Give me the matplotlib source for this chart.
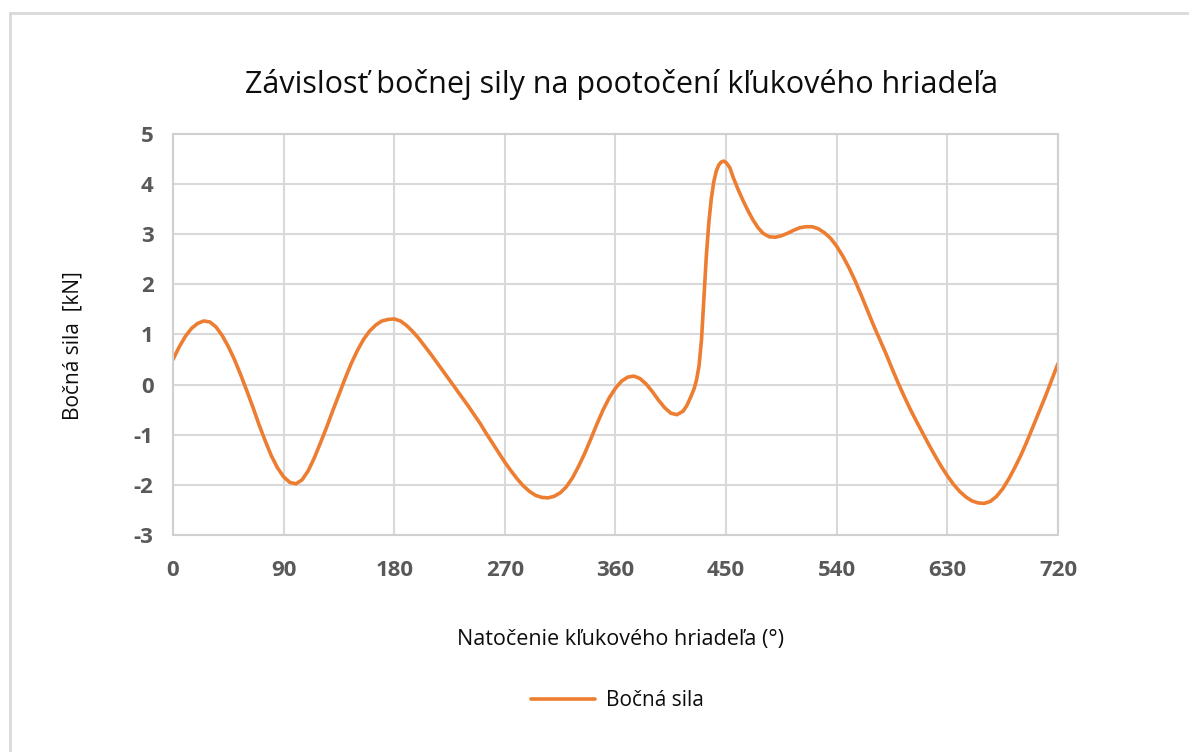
import matplotlib.pyplot as plt
from matplotlib.lines import Line2D


# -----------------------------
# Data
# -----------------------------

angles = (
    list(range(0, 420, 5))
    + [418, 421, 424, 426, 428, 430, 432, 434, 436, 438, 440, 442, 444,
       446, 448, 450, 453, 456, 460, 464, 468, 472, 476, 480]
    + list(range(485, 725, 5))
)

side_force = [
    # 0 - 95
    0.50, 0.75, 0.96, 1.12, 1.22, 1.27, 1.25, 1.15, 0.98, 0.76,
    0.50, 0.20, -0.12, -0.45, -0.80, -1.12, -1.42, -1.66, -1.84, -1.95,
    # 100 - 195
    -1.98, -1.90, -1.72, -1.46, -1.16, -0.85, -0.52, -0.20, 0.12, 0.42,
    0.68, 0.90, 1.07, 1.19, 1.27, 1.30, 1.31, 1.27, 1.18, 1.06,
    # 200 - 295
    0.92, 0.76, 0.60, 0.43, 0.26, 0.09, -0.08, -0.25, -0.42, -0.60,
    -0.78, -0.98, -1.17, -1.36, -1.55, -1.72, -1.88, -2.02, -2.13, -2.21,
    # 300 - 395
    -2.25, -2.26, -2.23, -2.16, -2.04, -1.86, -1.63, -1.37, -1.08, -0.78,
    -0.50, -0.26, -0.07, 0.07, 0.15, 0.17, 0.12, 0.01, -0.14, -0.31,
    # 400 - 415
    -0.46, -0.57, -0.60, -0.53,
    # 418 - 480
    -0.42, -0.26, -0.08, 0.10, 0.38, 0.90, 1.75, 2.60, 3.25, 3.72,
    4.05, 4.26, 4.38, 4.44, 4.46, 4.43, 4.33, 4.12, 3.88, 3.66,
    3.46, 3.28, 3.13, 3.02,
    # 485 - 580
    2.95, 2.94, 2.97, 3.02, 3.08, 3.13, 3.15, 3.15, 3.11, 3.03,
    2.92, 2.76, 2.56, 2.33, 2.07, 1.78, 1.48, 1.18, 0.90, 0.62,
    # 585 - 680
    0.32, 0.03, -0.24, -0.50, -0.74, -0.97, -1.20, -1.42, -1.63, -1.82,
    -1.99, -2.13, -2.24, -2.32, -2.36, -2.37, -2.33, -2.23, -2.08, -1.88,
    # 685 - 720
    -1.65, -1.40, -1.12, -0.82, -0.52, -0.22, 0.10, 0.42
]

x_ticks = [0, 90, 180, 270, 360, 450, 540, 630, 720]
y_ticks = [-3, -2, -1, 0, 1, 2, 3, 4, 5]

title_text = "Závislosť bočnej sily na pootočení kľukového hriadeľa"
x_label = "Natočenie kľukového hriadeľa (°)"
y_label = "Bočná sila  [kN]"
series_name = "Bočná sila"


plt.rcParams["font.family"] = ["Open Sans", "DejaVu Sans"]
plt.rcParams["axes.unicode_minus"] = False

fig = plt.figure(
    figsize=(11.89, 7.52),
    dpi=100
)

# outer chart frame (only top and left edges visible)
fig.add_artist(
    Line2D([0.008, 0.008], [0.0, 0.983], transform=fig.transFigure,
           color="#d9d9d9", linewidth=2)
)
fig.add_artist(
    Line2D([0.008, 1.0], [0.983, 0.983], transform=fig.transFigure,
           color="#d9d9d9", linewidth=2)
)

ax = fig.add_axes([0.1455, 0.2886, 0.7443, 0.5332])

line, = ax.plot(
    angles,
    side_force,
    color="#ED7D31",
    linewidth=2.6,
    solid_capstyle="round",
    solid_joinstyle="round"
)

ax.set_xlim(0, 720)
ax.set_ylim(-3, 5)
ax.set_xticks(x_ticks)
ax.set_yticks(y_ticks)

ax.grid(True, color="#d9d9d9", linewidth=1.5)
ax.set_axisbelow(True)

for spine in ax.spines.values():
    spine.set_color("#d0d0d0")
    spine.set_linewidth(1.5)

ax.tick_params(
    axis="both",
    length=0,
    labelsize=16,
    labelcolor="#595959"
)
ax.tick_params(axis="x", pad=18)
ax.tick_params(axis="y", pad=14)

for lbl in ax.get_xticklabels() + ax.get_yticklabels():
    lbl.set_fontweight("bold")

fig.text(
    0.523, 0.887,
    title_text,
    ha="center", va="center",
    fontsize=22, color="#0d0d0d"
)

fig.text(
    0.522, 0.149,
    x_label,
    ha="center", va="center",
    fontsize=15.5, color="#0d0d0d"
)

fig.text(
    0.061, 0.54,
    y_label,
    ha="center", va="center",
    rotation=90,
    fontsize=15, color="#0d0d0d"
)

fig.legend(
    [line],
    [series_name],
    loc="center",
    bbox_to_anchor=(0.519, 0.068),
    frameon=False,
    fontsize=15,
    handlelength=3.1,
    handletextpad=0.5,
    labelcolor="#0d0d0d"
)

fig.savefig("out.png", dpi=100)
